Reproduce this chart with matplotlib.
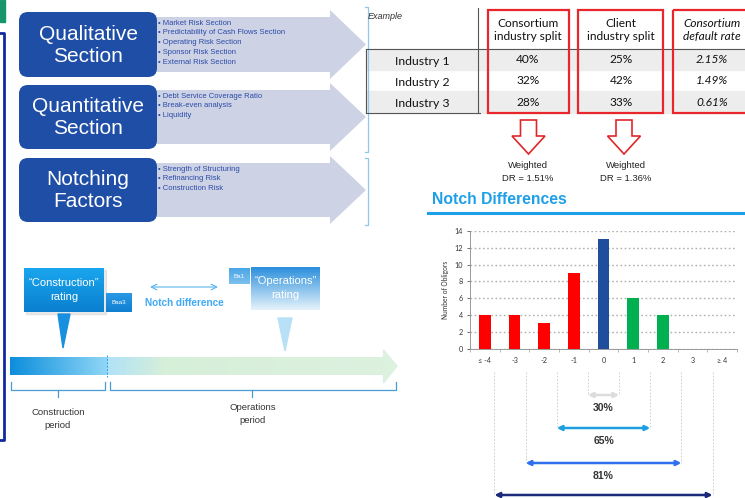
import numpy as np
import matplotlib
matplotlib.use("Agg")
import matplotlib.pyplot as plt
from matplotlib.patches import FancyBboxPatch, Polygon, Rectangle
from matplotlib.transforms import blended_transform_factory

# ---------------- data ----------------
sections = ["Qualitative\nSection", "Quantitative\nSection", "Notching\nFactors"]
section_items = [
    ["Market Risk Section", "Predictability of Cash Flows Section",
     "Operating Risk Section", "Sponsor Risk Section", "External Risk Section"],
    ["Debt Service Coverage Ratio", "Break-even analysis", "Liquidity"],
    ["Strength of Structuring", "Refinancing Risk", "Construction Risk"],
]
industries = ["Industry 1", "Industry 2", "Industry 3"]
table_headers = ["Consortium\nindustry split", "Client\nindustry split", "Consortium\ndefault rate"]
consortium_split = ["40%", "32%", "28%"]
client_split = ["25%", "42%", "33%"]
consortium_dr = ["2.15%", "1.49%", "0.61%"]
weighted_dr = ["Weighted\nDR = 1.51%", "Weighted\nDR = 1.36%"]

notch_labels = ["\u2264 -4", "-3", "-2", "-1", "0", "1", "2", "3", "\u2265 4"]
notch_counts = [4, 4, 3, 9, 13, 6, 4, 0, 0]
notch_colors = ["#ff0000"] * 4 + ["#1f4e9c"] + ["#00b050"] * 4
band_pcts = ["30%", "65%", "81%", ""]

# ---------------- figure ----------------
W, H = 745, 498
fig = plt.figure(figsize=(W / 100, H / 100), dpi=100)
ax = fig.add_axes([0, 0, 1, 1])
ax.set_xlim(0, W)
ax.set_ylim(H, 0)
ax.axis("off")

ARIAL = ["Liberation Sans", "DejaVu Sans"]
NARROW = ["Liberation Sans Narrow", "Liberation Sans", "DejaVu Sans"]
CALIBRI = ["Lato", "DejaVu Sans"]


def grad(x0, x1, y0, y1, c0, c1, horizontal=True, z=2):
    c0 = np.array(matplotlib.colors.to_rgb(c0))
    c1 = np.array(matplotlib.colors.to_rgb(c1))
    t = np.linspace(0, 1, 256)
    cols = c0[None, :] * (1 - t[:, None]) + c1[None, :] * t[:, None]
    if horizontal:
        img = cols[None, :, :]
    else:
        img = cols[:, None, :]
    ax.imshow(img, extent=(x0, x1, y1, y0), aspect="auto", zorder=z,
              interpolation="bilinear")


# top-left decorations
ax.add_patch(Rectangle((0, 0), 5, 22, color="#17966c", zorder=1))
ax.plot([0, 3.5, 3.5, 0], [33, 33, 440, 440], color="#1428a0", lw=2, zorder=1)

# ---------------- left section boxes ----------------
box_y = [(12, 77), (85, 149), (158, 222)]
for i, (y0, y1) in enumerate(box_y):
    hy0, hy1 = y0 - 2, y1 + 2
    by0, by1 = y0 + 5, y1 - 5
    ym = (y0 + y1) / 2
    ax.add_patch(Polygon([(150, by0), (330, by0), (330, hy0), (366, ym),
                          (330, hy1), (330, by1), (150, by1)],
                         closed=True, facecolor="#cdd2e4", edgecolor="none", zorder=2))
    ax.add_patch(FancyBboxPatch((19, y0), 138, y1 - y0,
                                boxstyle="round,pad=0,rounding_size=9",
                                facecolor="#1f4ea6", edgecolor="none", zorder=3))
    ax.text(88, ym + 0.5, sections[i], ha="center", va="center", color="white",
            fontsize=15, family=ARIAL, linespacing=1.2, zorder=4)
    for j, item in enumerate(section_items[i]):
        yy = y0 + 11 + j * 9.8
        ax.text(158, yy, "\u2022 " + item, ha="left", va="center", color="#2a4aa8",
                fontsize=5.5, family=ARIAL, zorder=4)

# light blue brackets
for (y0, y1) in [(7, 152), (158, 225)]:
    ax.plot([365, 368, 368, 365], [y0, y0, y1, y1], color="#8cc8ee", lw=0.9, zorder=2)

# ---------------- table ----------------
ax.text(368, 16, "Example", ha="left", va="center", fontsize=6.5, style="italic",
        family=ARIAL, color="#333333")
row_y = [(49, 70), (70, 91), (91, 113)]
for k, (y0, y1) in enumerate(row_y):
    if k != 1:
        ax.add_patch(Rectangle((366, y0), W - 366, y1 - y0, color="#ededed", zorder=1))
ax.plot([366, W], [49, 49], color="#555555", lw=0.8, zorder=2)
ax.plot([366, 480], [113, 113], color="#555555", lw=0.8, zorder=2)
ax.plot([366, 366], [49, 113], color="#555555", lw=0.8, zorder=2)
ax.plot([477.5, 477.5], [8, 113], color="#555555", lw=0.8, zorder=2)

col_x = [528, 621, 712]
red_boxes = [(488, 569), (578, 663), (673, 752)]
for (x0, x1) in red_boxes:
    ax.add_patch(Rectangle((x0, 9.5), x1 - x0, 103.5, facecolor="none",
                           edgecolor="#e8262b", lw=1.6, zorder=3))
for c, hdr in enumerate(table_headers):
    ax.text(col_x[c], 30, hdr, ha="center", va="center", fontsize=8.6,
            family=CALIBRI, color="#111111", linespacing=1.25,
            style="italic" if c == 2 else "normal", zorder=4)
cols_vals = [consortium_split, client_split, consortium_dr]
for r in range(3):
    yc = (row_y[r][0] + row_y[r][1]) / 2
    ax.text(422, yc + 1.5, industries[r], ha="center", va="center", fontsize=8.8,
            family=CALIBRI, color="#111111", zorder=4)
    for c in range(3):
        ax.text(col_x[c], yc, cols_vals[c][r], ha="center", va="center", fontsize=8.6,
                family=CALIBRI, color="#111111",
                style="italic" if c == 2 else "normal", zorder=4)

# hollow red down arrows + weighted DR
for k, cx in enumerate([528.5, 624]):
    ax.add_patch(Polygon([(cx - 8, 120), (cx + 8, 120), (cx + 8, 136), (cx + 16.5, 136),
                          (cx, 154), (cx - 16.5, 136), (cx - 8, 136)], closed=True,
                         facecolor="white", edgecolor="#e0262b", lw=1.2, zorder=3))
    ax.text(cx - 1 + 3 * k, 172, weighted_dr[k], ha="center", va="center", fontsize=6.8,
            family=ARIAL, color="#222222", linespacing=1.45)

# ---------------- Notch Differences title ----------------
ax.text(432, 199, "Notch Differences", ha="left", va="center", fontsize=11.3,
        fontweight="bold", family=ARIAL, color="#1ea0e8")
ax.plot([428, W], [213, 213], color="#1ea0e8", lw=2.2)

# ---------------- bar chart ----------------
bx0, bx1, by_top, by_bot = 470, 737, 231, 348.5
axb = fig.add_axes([bx0 / W, (H - by_bot) / H, (bx1 - bx0) / W, (by_bot - by_top) / H])
axb.patch.set_alpha(0)
xpos = np.arange(len(notch_labels))
axb.bar(xpos, notch_counts, width=0.4, color=notch_colors, zorder=3)
axb.set_xlim(-0.5, len(notch_labels) - 0.5)
axb.set_ylim(0, 14)
axb.set_yticks(np.arange(0, 15, 2))
axb.set_xticks(xpos)
axb.set_xticklabels(notch_labels, fontsize=5.2, family=CALIBRI, color="#333333")
axb.tick_params(axis="y", labelsize=5.2, colors="#333333", length=2, width=0.5, pad=3)
axb.tick_params(axis="x", length=0, pad=6)
axb.set_xticks(np.arange(-0.5, len(notch_labels), 1), minor=True)
axb.tick_params(axis="x", which="minor", length=2, width=0.5, color="#999999")
for lab in axb.get_yticklabels():
    lab.set_family(CALIBRI)
axb.grid(axis="y", linestyle=(0, (1.2, 1.8)), color="#b0b0b0", lw=1.0, zorder=0)
for s in ["top", "right"]:
    axb.spines[s].set_visible(False)
for s in ["left", "bottom"]:
    axb.spines[s].set_color("#999999")
    axb.spines[s].set_linewidth(0.7)
axb.set_ylabel("Number of Obligors", fontsize=4.8, family=CALIBRI, color="#333333", labelpad=4)

# ---------------- band arrows below chart ----------------
tr = blended_transform_factory(axb.transData, ax.transData)
zero_idx = notch_labels.index("0")
band_y = [395, 428, 463, 495]
band_cols = ["#dcdcdc", "#1ea0e0", "#2f70f0", "#1b2a7a"]
step = 1.05
for k in range(4):
    half = (k + 0.5) * step
    xl, xr = zero_idx - half, zero_idx + half
    for xx in (xl, xr):
        ax.plot([xx, xx], [372, band_y[k]], transform=tr, color="#c8c8c8",
                lw=0.6, ls=(0, (2, 2)), clip_on=False)
    ax.annotate("", xy=(xr, band_y[k]), xytext=(xl, band_y[k]), xycoords=tr, textcoords=tr,
                arrowprops=dict(arrowstyle="<|-|>", color=band_cols[k], lw=1.8,
                                mutation_scale=7, shrinkA=0, shrinkB=0))
    if band_pcts[k]:
        ax.text(zero_idx, band_y[k] + 13, band_pcts[k], transform=tr, ha="center",
                va="center", fontsize=7.5, fontweight="bold", family=ARIAL, color="#333333")

# ---------------- timeline diagram ----------------
ax.add_patch(Rectangle((25.5, 270), 80, 44, color="#c8c8c8", alpha=0.4, zorder=1))
grad(24, 104, 268, 312, "#1aa6ee", "#0a7fcf", horizontal=False)
ax.text(64, 290, "\u201cConstruction\u201d\nrating", ha="center", va="center", color="white",
        fontsize=8, family=NARROW, linespacing=1.4, zorder=5)
ax.add_patch(Polygon([(58, 314), (70, 314), (63, 348)], closed=True,
                     color="#1890e0", zorder=3))
grad(106, 132, 293, 312, "#2a9ae6", "#0f7fcf", horizontal=False)
ax.text(119, 302.5, "Baa3", ha="center", va="center", color="white", fontsize=4.5,
        family=NARROW, zorder=5)
ax.annotate("", xy=(218, 287), xytext=(150, 287),
            arrowprops=dict(arrowstyle="<->", color="#5ab4ee", lw=0.8, shrinkA=0, shrinkB=0))
ax.text(184, 303, "Notch difference", ha="center", va="center", color="#3fa9f5",
        fontsize=7.2, fontweight="bold", family=NARROW)
grad(229, 250, 268, 284, "#4aa6e6", "#7cc0ee", horizontal=False)
ax.text(239.5, 276, "Ba1", ha="center", va="center", color="white", fontsize=4.5,
        family=NARROW, zorder=5)
grad(251, 320, 267, 310, "#2a8fdc", "#e6f3fb", horizontal=False)
ax.text(285.5, 288, "\u201cOperations\u201d\nrating", ha="center", va="center", color="white",
        fontsize=8, family=NARROW, linespacing=1.4, zorder=5)
ax.add_patch(Polygon([(278, 318), (292, 318), (285, 351)], closed=True,
                     color="#b8e0f6", zorder=3))
grad(10, 107, 357, 375, "#0c8edc", "#8fd6f6", horizontal=True)
grad(107, 165, 357, 375, "#b0e2f8", "#d6efd9", horizontal=True)
grad(165, 384, 357, 375, "#d6efd9", "#ddf1df", horizontal=True)
ax.add_patch(Polygon([(383.5, 350), (397, 366), (383.5, 383)], closed=True,
                     color="#ddf1df", zorder=2))
ax.plot([107, 107], [355, 377], color="#2a9ae6", lw=0.7, ls=(0, (2, 1.5)), zorder=4)
bc = "#4a9ad4"
ax.plot([11, 11, 105, 105], [382, 390, 390, 382], color=bc, lw=0.9)
ax.plot([58, 58], [390, 397], color=bc, lw=0.9)
ax.plot([110, 110, 396, 396], [382, 390, 390, 382], color=bc, lw=0.9)
ax.plot([252, 252], [390, 397], color=bc, lw=0.9)
ax.text(58, 419, "Construction\nperiod", ha="center", va="center", fontsize=6.8,
        family=NARROW, color="#333333", linespacing=1.5)
ax.text(253, 414, "Operations\nperiod", ha="center", va="center", fontsize=6.8,
        family=NARROW, color="#333333", linespacing=1.5)

ax.set_xlim(0, W)
ax.set_ylim(H, 0)
fig.savefig("out.png", dpi=100)
